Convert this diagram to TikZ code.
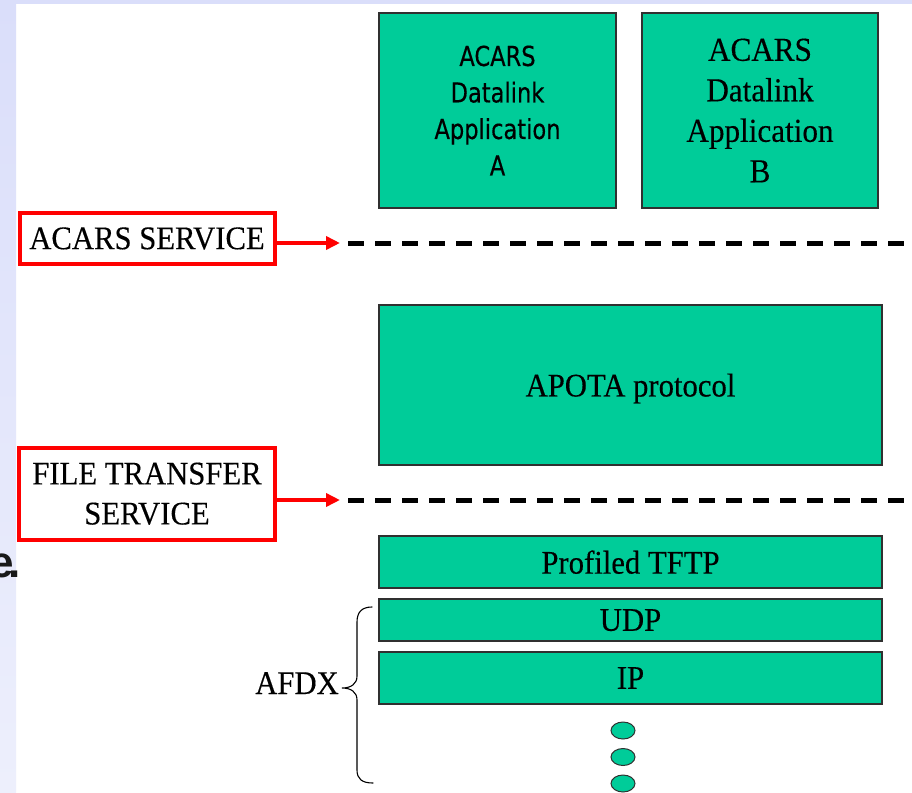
\documentclass[tikz,border=0pt]{standalone}
\usepackage{fontspec}
\setmainfont{Liberation Serif}
\newfontfamily\labelserif[FakeStretch=0.93,FakeBold=0.3]{Liberation Serif}
\newfontfamily\appsans[FakeStretch=0.82,FakeBold=0.4]{DejaVu Sans}
\newfontfamily\slidesans{Liberation Sans}
\usetikzlibrary{arrows.meta,shapes.geometric}

\definecolor{layergreen}{HTML}{00CC99}
\definecolor{layeredge}{HTML}{303030}
\definecolor{slideblue}{HTML}{DADEFA}
\definecolor{slidebluelight}{HTML}{EDEFFC}
\definecolor{svcred}{HTML}{FF0000}

\tikzset{
  layer/.style={draw=layeredge, line width=1.5pt, fill=layergreen,
    inner sep=0pt, align=center, text=black},
  svcbox/.style={draw=svcred, line width=4pt, fill=white, inner sep=0pt,
    align=center, text=black},
  svcarrow/.style={draw=svcred, line width=4.5pt,
    -{Triangle[length=14pt,width=13pt]}},
  boundary/.style={draw=black, line width=5pt, dash pattern=on 16pt off 11pt},
  stackdot/.style={ellipse, draw=layeredge, line width=1pt, fill=layergreen,
    minimum width=24pt, minimum height=17pt, inner sep=0pt},
  serifbig/.style={font=\labelserif\fontsize{33}{40}\selectfont},
}

\begin{document}
\begin{tikzpicture}[x=1pt, y=-1pt]
  % page and slide background strips
  \useasboundingbox (0,0) rectangle (912,792);
  \fill[white] (0,0) rectangle (912,792);
  \shade[top color=slideblue, bottom color=slidebluelight] (0,0) rectangle (16,792);
  \fill[slideblue] (0,0) rectangle (912,4);
  \node[anchor=base east, inner sep=0pt, text=black!90,
        font=\slidesans\bfseries\fontsize{44}{44}\selectfont] (frag) at (21,577) {e\kern-5pt.};

  % application layer
  \node[layer, minimum width=237pt, minimum height=195pt,
        font=\appsans\fontsize{27.5}{36.5}\selectfont] (appA) at (497.5,110.5)
        {ACARS\\Datalink\\Application\\A};
  \node[layer, minimum width=236pt, minimum height=195pt,
        font=\labelserif\fontsize{33.5}{40.5}\selectfont] (appB) at (760,110.5)
        {ACARS\\Datalink\\Application\\B};

  % protocol stack
  \node[layer, serifbig, text depth=0pt, minimum width=503pt, minimum height=160pt]
        (apota) at (630.5,385) {APOTA protocol};
  \node[layer, serifbig, text depth=0pt, minimum width=503pt, minimum height=52pt]
        (tftp) at (630.5,562) {Profiled TFTP};
  \node[layer, serifbig, text depth=0pt, minimum width=503pt, minimum height=42pt]
        (udp) at (630.5,620) {UDP};
  \node[layer, serifbig, text depth=0pt, minimum width=503pt, minimum height=52pt]
        (ip) at (630.5,678) {IP};
  \node[stackdot] (dot1) at (623,730.5) {};
  \node[stackdot] (dot2) at (623,757) {};
  \node[stackdot] (dot3) at (623,783.5) {};

  % service boundaries
  \node[svcbox, serifbig, minimum width=255pt, minimum height=51pt]
        (svcA) at (147,238.5) {ACARS SERVICE};
  \node[svcbox, serifbig, minimum width=256pt, minimum height=92.5pt]
        (svcF) at (147,493.75) {FILE TRANSFER\\SERVICE};

  \coordinate (tipA) at (340,243);
  \coordinate (bndA0) at (348,243);
  \coordinate (bndA1) at (912,243);
  \coordinate (tipF) at (340,500);
  \coordinate (bndF0) at (348,500);
  \coordinate (bndF1) at (912,500);

  \draw[svcarrow] (svcA.east |- tipA) -- (tipA);
  \draw[boundary] (bndA0) -- (bndA1);
  \draw[svcarrow] (svcF.east |- tipF) -- (tipF);
  \draw[boundary] (bndF0) -- (bndF1);

  % AFDX brace
  \node[anchor=base east, serifbig, inner sep=0pt] (afdx) at (339,694) {AFDX};
  \draw[line width=1.1pt, line cap=round]
    (372,607) .. controls (362,607) and (357,612) .. (357,622)
    -- (357,676) .. controls (357,684) and (351,688) .. (342,688)
    .. controls (351,688) and (357,692) .. (357,700)
    -- (357,770) .. controls (357,779) and (362,783) .. (373,783);
\end{tikzpicture}
\end{document}
